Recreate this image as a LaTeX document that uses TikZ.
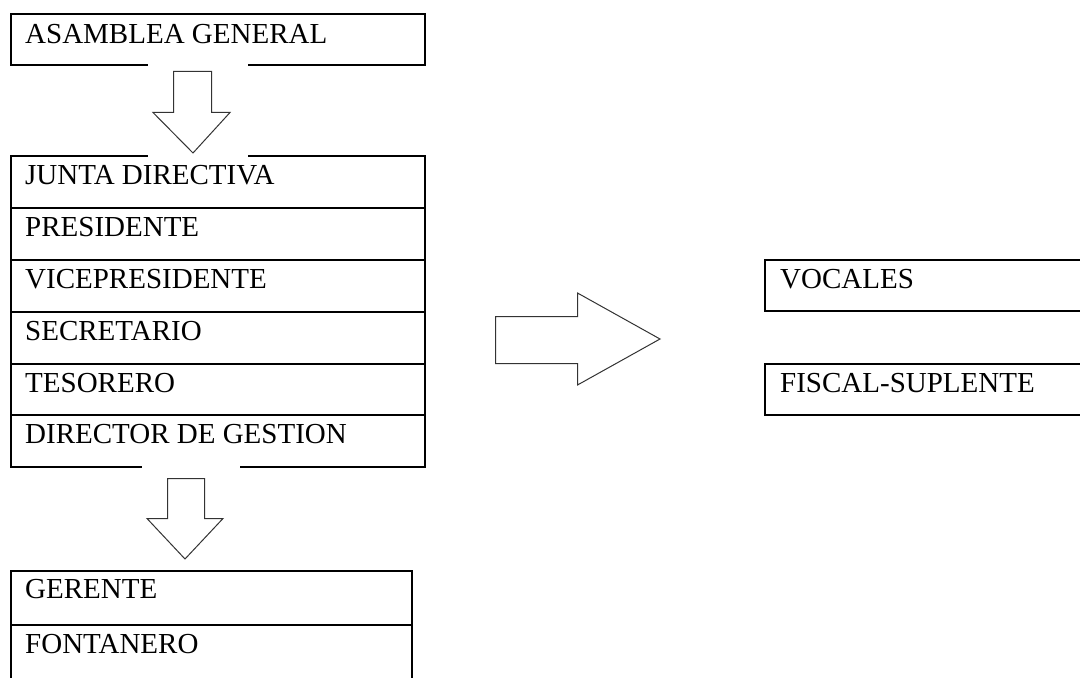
\documentclass[tikz,border=0pt]{standalone}
\usepackage{fontspec}
\setmainfont{Liberation Serif}
\begin{document}
\begin{tikzpicture}[x=1bp,y=-1bp,
  box/.style={draw=black, line width=2bp, anchor=north west, inner sep=0pt, outer sep=0pt, minimum width=414bp, minimum height=52bp},
  rbox/.style={draw=black, line width=2bp, anchor=north west, inner sep=0pt, outer sep=0pt, minimum width=330bp, minimum height=51bp},
  lbl/.style={anchor=base west, inner sep=0pt, font=\fontsize{29bp}{34bp}\selectfont},
  blockarrow/.style={draw=black!80, line width=1bp, fill=white, line join=miter}]
\useasboundingbox (0,0) rectangle (1080,678);
\fill[white] (0,0) rectangle (1080,678);

% Asamblea general
\node[box, minimum height=51bp] (ag) at (11,14) {};
\node[lbl] (tag) at ([xshift=14bp,yshift=-29.5bp]ag.north west) {ASAMBLEA GENERAL};

% Junta directiva block
\node[box] (jd) at (11,156) {};
\node[box, anchor=north west] (pr) at (jd.south west) {};
\node[box, anchor=north west] (vp) at (pr.south west) {};
\node[box, anchor=north west] (se) at (vp.south west) {};
\node[box, anchor=north west, minimum height=51bp] (te) at (se.south west) {};
\node[box, anchor=north west] (dg) at (te.south west) {};
\foreach \n/\t in {jd/JUNTA DIRECTIVA, pr/PRESIDENTE, vp/VICEPRESIDENTE, se/SECRETARIO, te/TESORERO, dg/DIRECTOR DE GESTION}
  \node[lbl] (t\n) at ([xshift=14bp,yshift=-28.3bp]\n.north west) {\t};

% Gerente / fontanero
\node[box, minimum width=401bp, minimum height=54bp] (ge) at (11,571) {};
\node[box, minimum width=401bp, minimum height=56bp, anchor=north west] (fo) at (ge.south west) {};
\node[lbl] (tge) at ([xshift=14bp,yshift=-27.5bp]ge.north west) {GERENTE};
\node[lbl] (tfo) at ([xshift=14bp,yshift=-28bp]fo.north west) {FONTANERO};

% Right boxes
\node[rbox] (vo) at (765,260) {};
\node[rbox] (fs) at (765,364) {};
\node[lbl] (tvo) at ([xshift=15bp,yshift=-28.3bp]vo.north west) {VOCALES};
\node[lbl] (tfs) at ([xshift=15bp,yshift=-28.8bp]fs.north west) {FISCAL-SUPLENTE};

% gaps in edges
\fill[white] (148,62) rectangle (248,68);
\fill[white] (148,153) rectangle (248,159);
\fill[white] (142,464) rectangle (240,470);

% block arrows
\draw[blockarrow] (173.5,71.5) -- (211.5,71.5) -- (211.5,112.5) -- (230,112.5) -- (193,153) -- (153,112.5) -- (173.5,112.5) -- cycle;
\draw[blockarrow] (167.5,478.5) -- (204.5,478.5) -- (204.5,518.5) -- (223,518.5) -- (185,559) -- (147,518.5) -- (167.5,518.5) -- cycle;
\draw[blockarrow] (495.5,316.5) -- (577.5,316.5) -- (577.5,293) -- (660,339) -- (577.5,385) -- (577.5,363.5) -- (495.5,363.5) -- cycle;
\end{tikzpicture}
\end{document}
